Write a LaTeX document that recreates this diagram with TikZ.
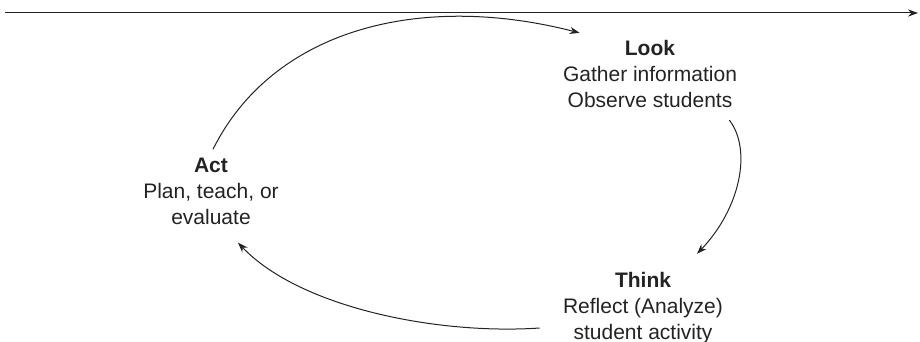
\documentclass[tikz,border=0pt]{standalone}
\usepackage{fontspec}
\setmainfont{Liberation Sans}
\usepackage{xcolor}
\usepackage{tikz}
\usetikzlibrary{arrows.meta, positioning, calc}
\definecolor{cycink}{RGB}{35, 35, 35}

\begin{document}
\begin{tikzpicture}[
    x=0.5pt, y=-0.5pt,
    stage/.style={align=center, text=cycink, inner sep=3pt,
                  font=\fontsize{10.5}{13}\selectfont},
    arr/.style={-{Stealth[length=5pt, width=3.6pt]}, draw=cycink, line width=0.5pt},
  ]
    \useasboundingbox (0,0) rectangle (920,342);
    % Time line across the top
    \coordinate (tstart) at (5,13);
    \coordinate (tend)   at (918,13);
    \draw[arr] (tstart) -- (tend);
    % Three stages of the cycle
    \node[stage] (look)  at (650, 74)  {\textbf{Look}\\Gather information\\Observe students};
    \node[stage] (think) at (643, 308) {\textbf{Think}\\Reflect (Analyze)\\student activity};
    \node[stage] (act)   at (211, 191) {\textbf{Act}\\Plan, teach, or\\evaluate};

    \draw[arr] ($(act.north)+(2,-2)$) .. controls +(60,-120) and +(-160,-41) .. ($(look.north west)+(23,-1)$);
    \draw[arr] ($(look.south east)+(-14,6)$) .. controls +(23,30) and +(43,-45) .. ($(think.north)+(54,-12)$);
    \draw[arr] ($(think.west)+(-17,20)$) .. controls +(-102,7) and +(62,65) .. ($(act.south)+(27,12)$);
  \end{tikzpicture}
\end{document}
